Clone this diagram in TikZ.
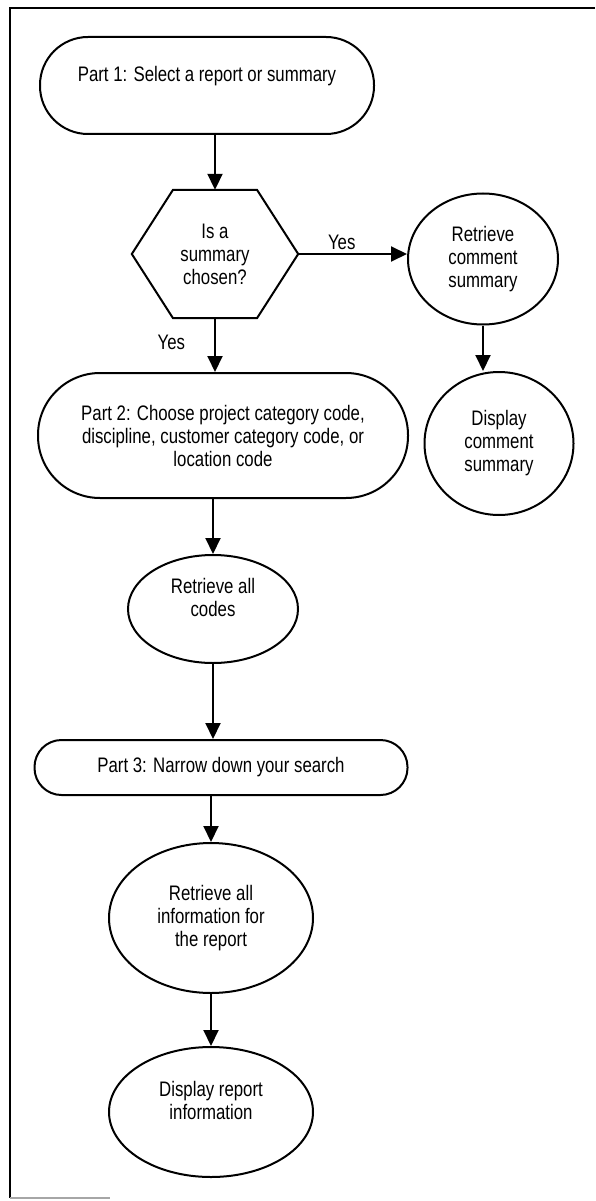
\documentclass[tikz,border=0pt]{standalone}
\usepackage{fontspec}
\setmainfont{Liberation Sans}[FakeStretch=0.8]
\usetikzlibrary{shapes.geometric,arrows.meta,calc}

\begin{document}
\begin{tikzpicture}[x=1pt, y=-1pt,
    every node/.style={font=\fontsize{21}{23}\selectfont},
    term/.style={draw, line width=2pt, align=center, inner sep=0pt},
    proc/.style={draw, ellipse, line width=2pt, align=center, inner sep=0pt},
    flow/.style={-{Triangle[length=16pt,width=15pt]}, line width=2pt}]
    \useasboundingbox (0,0) rectangle (595,1201);
    % frame
    \draw[line width=1.4pt] (595,8) -- (10,8) -- (10,1198);
    \draw[line width=1.4pt, black!35] (10,1198) -- (110,1198);
    % part 1
    \node[term, minimum width=334pt, minimum height=97pt, rounded corners=48pt] (part1) at (207,85.5) {Part 1: Select a report or summary\\ \mbox{}};
    % question
    \node[minimum width=166pt, minimum height=128pt, inner sep=0pt, align=center] (hex) at (215,254) {Is a\\summary\\chosen?};
    \draw[line width=2pt] ($(hex.north)+(-42,0)$) -- ($(hex.north)+(42,0)$) -- (hex.east)
        -- ($(hex.south)+(42,0)$) -- ($(hex.south)+(-42,0)$) -- (hex.west) -- cycle;
    % summary branch
    \node[proc, minimum width=150pt, minimum height=131pt] (rcs) at (483,259) {Retrieve\\comment\\summary};
    \node[proc, minimum width=149pt, minimum height=143pt] (dcs) at (499,443.5) {Display\\comment\\summary};
    % part 2
    \node[term, minimum width=370pt, minimum height=125pt, rounded corners=62pt] (part2) at (223,435.5) {Part 2: Choose project category code,\\discipline, customer category code, or\\location code};
    \node[proc, minimum width=170pt, minimum height=108pt] (codes) at (213,609) {Retrieve all\\codes\\ \mbox{}};
    % part 3
    \node[term, minimum width=373pt, minimum height=55pt, rounded corners=27pt] (part3) at (221,767.5) {Part 3: Narrow down your search};
    \node[proc, minimum width=204pt, minimum height=150pt] (info) at (211,918) {Retrieve all\\information for\\the report};
    \node[proc, minimum width=204pt, minimum height=130pt] (disp) at (211,1112) {Display report\\information\\ \mbox{}};
    % arrows
    \draw[flow] (part1.south -| hex.north) -- (hex.north);
    \draw[flow] (hex.east) -- (hex.east -| rcs.west) node[pos=0.4, above, inner sep=3pt] {Yes};
    \draw[flow] (rcs.south) -- (rcs.south |- dcs.north);
    \draw[flow] (hex.south) -- (hex.south |- part2.north) node[pos=0.45, left=26pt, inner sep=3pt] {Yes};
    \draw[flow] (part2.south -| codes.north) -- (codes.north);
    \draw[flow] (codes.south) -- (codes.south |- part3.north);
    \draw[flow] (part3.south -| info.north) -- (info.north);
    \draw[flow] (info.south) -- (disp.north);
\end{tikzpicture}
\end{document}
